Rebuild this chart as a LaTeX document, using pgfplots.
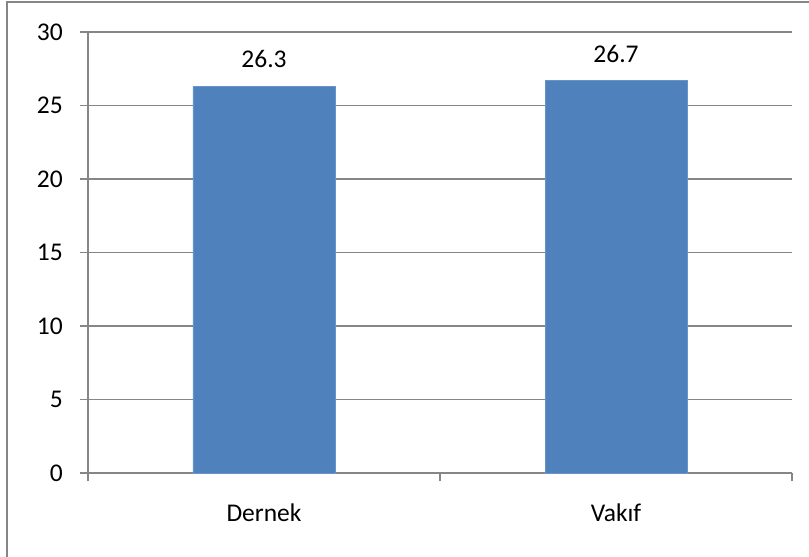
\documentclass[border=0pt]{standalone}
\usepackage{pgfplots}
\pgfplotsset{compat=1.18}
\usepackage{fontspec}
\setmainfont{Carlito}
\definecolor{barblue}{RGB}{79,129,189}
\definecolor{gridgray}{RGB}{134,134,134}
\begin{document}
\begin{tikzpicture}[x=1pt,y=1pt]
\useasboundingbox (-88,-84) rectangle (721,473);
\draw[gridgray, line width=2pt] (-81,-100) -- (-81,470.5) -- (740,470.5);
\begin{axis}[
  scale only axis, width=704pt, height=441pt,
  xmin=0, xmax=2, ymin=0, ymax=30,
  axis lines*=left,
  axis line style={gridgray, line width=1.5pt},
  every tick/.style={gridgray, line width=1.5pt},
  tick align=outside,
  major tick length=8pt,
  ytick={0,5,...,30},
  ymajorgrids,
  grid style={gridgray, line width=1.2pt},
  xtick={0,1,2},
  xticklabels={},
  extra x ticks={0.5,1.5},
  extra x tick labels={Dernek, Vakıf},
  extra x tick style={grid=none, major tick length=0pt},
  font=\fontsize{25.5}{30}\selectfont,
  /pgf/number format/assume math mode=true,
  yticklabel style={anchor=east, inner sep=0pt, xshift=-17pt},
  xticklabel style={anchor=north, inner sep=0pt, yshift=-31pt},
  ybar, bar width=142pt,
  nodes near coords,
  every node near coord/.style={anchor=south, inner sep=0pt, yshift=18pt, font=\fontsize{25.5}{30}\selectfont, black},
  nodes near coords={\pgfmathprintnumber[fixed, precision=1]{\pgfplotspointmeta}},
]
\addplot[fill=barblue, draw=barblue!85!white] coordinates {(0.5,26.3) (1.5,26.7)};
\end{axis}
\end{tikzpicture}
\end{document}
